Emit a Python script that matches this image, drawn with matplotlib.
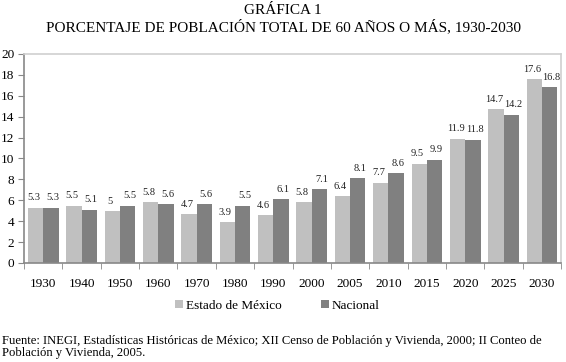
import numpy as np
import matplotlib.pyplot as plt

years = ['1930', '1940', '1950', '1960', '1970', '1980', '1990', '2000',
         '2005', '2010', '2015', '2020', '2025', '2030']
estado = [5.3, 5.5, 5, 5.8, 4.7, 3.9, 4.6, 5.8, 6.4, 7.7, 9.5, 11.9, 14.7, 17.6]
nacional = [5.3, 5.1, 5.5, 5.6, 5.6, 5.5, 6.1, 7.1, 8.1, 8.6, 9.9, 11.8, 14.2, 16.8]

plt.rcParams['font.family'] = ['Liberation Serif', 'DejaVu Serif']

fig = plt.figure(figsize=(5.66, 3.62), dpi=100)
ax = fig.add_axes([0.0424, 0.2735, 0.949, 0.5775])

x = np.arange(len(years))
w = 0.4
b1 = ax.bar(x - w / 2, estado, w, color='#c0c0c0', label='Estado de México')
b2 = ax.bar(x + w / 2, nacional, w, color='#808080', label='Nacional')

# light labels nudged left, dark labels nudged right (as in the original)
for bars, vals, dx in [(b1, estado, -0.05), (b2, nacional, 0.05)]:
    for r, v in zip(bars, vals):
        ax.text(r.get_x() + r.get_width() / 2 + dx, v + 0.5, f'{v:g}',
                ha='center', va='bottom', fontsize=7.5, color='#222222')

ax.set_xlim(-0.5, len(years) - 0.5)
ax.set_ylim(0, 20)
ax.set_yticks(range(0, 21, 2))
ax.set_xticks(x)
ax.set_xticklabels(years)
ax.set_xticks(np.arange(-0.5, len(years)), minor=True)
ax.tick_params(axis='x', which='major', length=0, pad=11, labelsize=9.5)
ax.tick_params(axis='x', which='minor', length=4, color='#888888')
ax.tick_params(axis='y', length=4, color='#888888', labelsize=9.5, pad=3)

for s in ['left', 'bottom']:
    ax.spines[s].set_color('#888888')
    ax.spines[s].set_linewidth(1.2)
for s in ['top', 'right']:
    ax.spines[s].set_color('#d0d0d0')
    ax.spines[s].set_linewidth(1.2)

fig.legend(loc='center', bbox_to_anchor=(0.49, 0.155), ncol=2, frameon=False,
           prop={'family': 'Liberation Serif', 'size': 9.5},
           handlelength=0.6, handleheight=0.6, handletextpad=0.2,
           columnspacing=3.0)

fig.text(0.5, 0.972, 'GRÁFICA 1', ha='center', va='center', fontsize=11)
fig.text(0.5, 0.927, 'PORCENTAJE DE POBLACIÓN TOTAL DE 60 AÑOS O MÁS, 1930-2030',
         ha='center', va='center', fontsize=11)
fig.text(0.003, 0.042, 'Fuente: INEGI, Estadísticas Históricas de México; XII Censo de '
         'Población y Vivienda, 2000; II Conteo de\nPoblación y Vivienda, 2005.',
         ha='left', va='center', fontsize=9.1, linespacing=0.95)

fig.savefig('out.png', dpi=100)
